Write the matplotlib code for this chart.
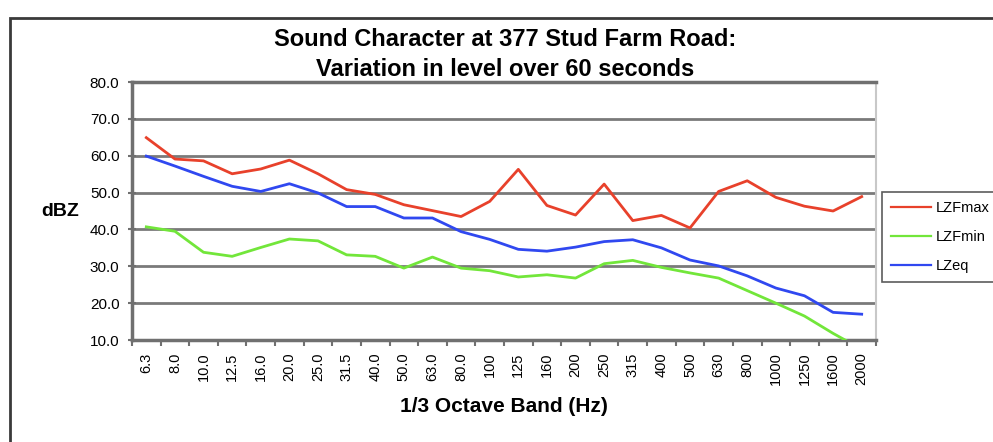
import matplotlib
matplotlib.use("Agg")
import matplotlib.pyplot as plt
from matplotlib.patches import Rectangle
import numpy as np

plt.rcParams['font.family'] = ['Liberation Sans', 'DejaVu Sans']

## datos
bands = ['6.3', '8.0', '10.0', '12.5', '16.0', '20.0', '25.0', '31.5', '40.0',
         '50.0', '63.0', '80.0', '100', '125', '160', '200', '250', '315',
         '400', '500', '630', '800', '1000', '1250', '1600', '2000']
lzfmax = [64.9, 59.1, 58.6, 55.1, 56.4, 58.8, 55.1, 50.8, 49.5, 46.7, 45.1,
          43.5, 47.6, 56.3, 46.5, 43.9, 52.3, 42.4, 43.8, 40.4, 50.3, 53.2,
          48.7, 46.3, 45.0, 48.9]
lzfmin = [40.7, 39.5, 33.8, 32.7, 35.1, 37.4, 36.9, 33.1, 32.7, 29.5, 32.5,
          29.5, 28.8, 27.1, 27.7, 26.8, 30.7, 31.6, 29.7, 28.2, 26.8, 23.4,
          20.0, 16.5, 11.8, 7.5]
lzeq = [59.9, 57.2, 54.4, 51.7, 50.3, 52.4, 49.9, 46.2, 46.2, 43.1, 43.1,
        39.4, 37.3, 34.6, 34.1, 35.2, 36.7, 37.2, 35.0, 31.7, 30.1, 27.4,
        24.1, 22.0, 17.5, 17.0]
yticks = [10, 20, 30, 40, 50, 60, 70, 80]

W, H = 993, 442
fig = plt.figure(figsize=(W / 100, H / 100), dpi=100)
ax = fig.add_axes([132 / W, 1 - 340 / H, 744 / W, 258 / H])

x = np.arange(len(bands))
ax.plot(x, lzfmax, color='#e8412b', lw=2.0, label='LZFmax', zorder=3)
ax.plot(x, lzfmin, color='#72e63a', lw=2.0, label='LZFmin', zorder=3)
ax.plot(x, lzeq, color='#3048f0', lw=2.0, label='LZeq', zorder=3)

ax.set_xlim(-0.5, len(bands) - 0.5)
ax.set_ylim(10, 80)

## ejes y rejilla
ax.set_yticks(yticks)
ax.set_yticklabels([f"{v:.1f}" for v in yticks], fontsize=11)
ax.yaxis.grid(True, color='#7a7a7a', lw=2.0)
ax.set_axisbelow(True)
ax.tick_params(axis='y', direction='inout', length=6, width=1.5,
               color='#707070', pad=6)

ax.set_xticks(np.arange(-0.5, len(bands)), minor=False)
ax.set_xticklabels([])
ax.set_xticks(x, minor=True)
ax.set_xticklabels(bands, minor=True, rotation=90, fontsize=10.5)
ax.tick_params(axis='x', which='major', direction='out', length=4,
               width=1.5, color='#707070')
ax.tick_params(axis='x', which='minor', length=0, pad=9)

for s in ['left', 'bottom', 'top']:
    ax.spines[s].set_color('#707070')
    ax.spines[s].set_linewidth(2.5)
ax.spines['right'].set_color('#c8c8c8')
ax.spines['right'].set_linewidth(1.5)

fig.text(505 / W, 1 - 40 / H, "Sound Character at 377 Stud Farm Road:",
         ha='center', va='center', fontsize=17, fontweight='bold')
fig.text(505 / W, 1 - 70 / H, "Variation in level over 60 seconds",
         ha='center', va='center', fontsize=17, fontweight='bold')
fig.text(60 / W, 1 - 211 / H, "dBZ", ha='center', va='center',
         fontsize=14, fontweight='bold')
fig.text(504 / W, 1 - 407 / H, "1/3 Octave Band (Hz)", ha='center',
         va='center', fontsize=15, fontweight='bold')

leg = fig.legend(loc='upper left', bbox_to_anchor=(882 / W, 1 - 192 / H),
                 borderaxespad=0, fontsize=10.5, handlelength=2.7,
                 frameon=True, fancybox=False, borderpad=0.65,
                 labelspacing=1.0, handletextpad=0.35)
leg.get_frame().set_edgecolor('#333333')
leg.get_frame().set_linewidth(1.2)
for ln in leg.get_lines():
    ln.set_linewidth(1.6)

## marco exterior
fig.patches.append(Rectangle((10 / W, -0.5), 2.0, 1.5 - 18 / H,
                             transform=fig.transFigure, fill=False,
                             ec='#3a3a3a', lw=2.0))

fig.savefig("out.png", dpi=100)
